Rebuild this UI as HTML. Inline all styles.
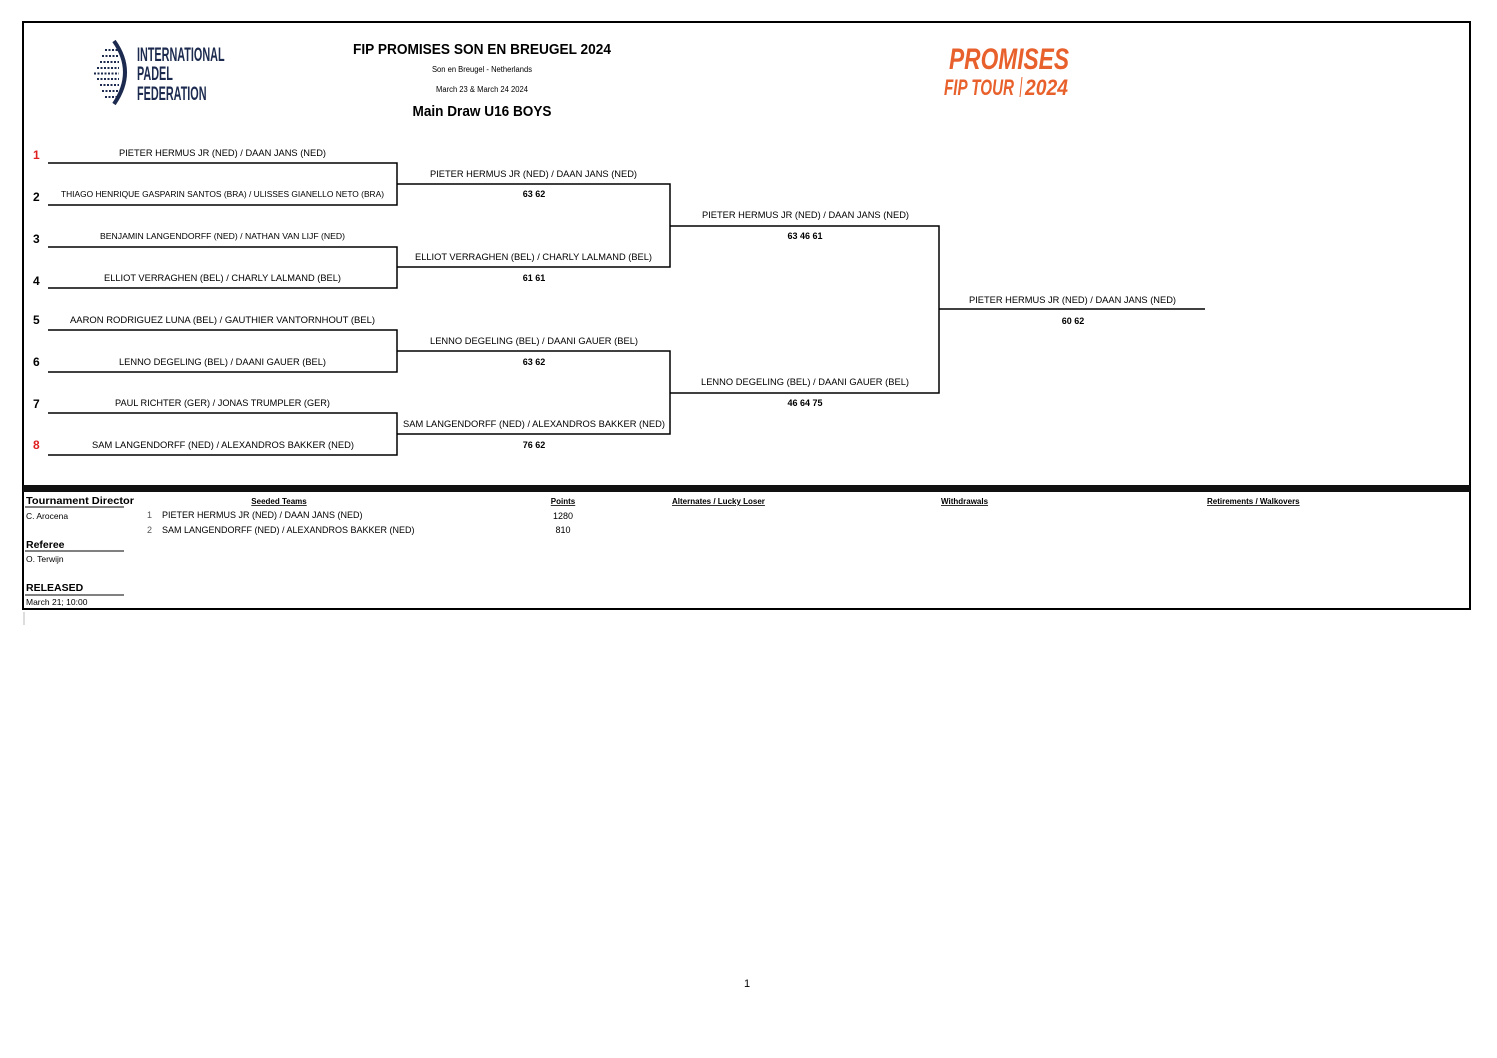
<!DOCTYPE html>
<html><head><meta charset="utf-8"><style>
html,body{margin:0;padding:0;background:#fff;}
svg{display:block;font-family:"Liberation Sans",sans-serif;}
</style></head><body>
<svg width="1497" height="1058" viewBox="0 0 1497 1058" xmlns="http://www.w3.org/2000/svg">
<rect x="23" y="22" width="1447" height="587" fill="none" stroke="#000" stroke-width="2"/>
<rect x="23" y="485" width="1447" height="7" fill="#111"/>
<line x1="24" y1="612" x2="24" y2="625" stroke="#bbb" stroke-width="1"/>
<!-- IPF logo -->
<path d="M114,41 Q136,72 114,104" fill="none" stroke="#1b2a4e" stroke-width="4"/>
<g stroke="#1b2a4e" stroke-width="2" stroke-dasharray="2,1.5" fill="none">
<line x1="105" y1="50" x2="118" y2="50"/><line x1="102" y1="56" x2="119" y2="56"/><line x1="100" y1="62" x2="119" y2="62"/>
<line x1="97" y1="68" x2="119" y2="68"/><line x1="94" y1="73.5" x2="119" y2="73.5"/><line x1="97" y1="79" x2="119" y2="79"/>
<line x1="100" y1="85" x2="119" y2="85"/><line x1="102" y1="91" x2="119" y2="91"/><line x1="105" y1="97" x2="118" y2="97"/>
</g>
<g fill="#1b2a4e" font-weight="bold" font-size="19" transform="translate(137,0) scale(0.57,1)">
<text x="0" y="61">INTERNATIONAL</text><text x="0" y="80">PADEL</text><text x="0" y="100">FEDERATION</text>
</g>
<!-- Title -->
<text x="482" y="54" font-size="14.5" font-weight="bold" text-anchor="middle" textLength="258" lengthAdjust="spacingAndGlyphs">FIP PROMISES SON EN BREUGEL 2024</text>
<text x="482" y="72" font-size="8" text-anchor="middle" textLength="100" lengthAdjust="spacingAndGlyphs">Son en Breugel - Netherlands</text>
<text x="482" y="92" font-size="8" text-anchor="middle" textLength="92" lengthAdjust="spacingAndGlyphs">March 23 &amp; March 24 2024</text>
<text x="482" y="116" font-size="14.5" font-weight="bold" text-anchor="middle" textLength="139" lengthAdjust="spacingAndGlyphs">Main Draw U16 BOYS</text>
<!-- Promises logo -->
<g fill="#e8612c" font-weight="bold" font-style="italic">
<text x="949" y="69" font-size="30" textLength="120" lengthAdjust="spacingAndGlyphs">PROMISES</text>
<text x="944" y="95" font-size="22" textLength="70" lengthAdjust="spacingAndGlyphs">FIP TOUR</text>
<text x="1025" y="95" font-size="22" textLength="43" lengthAdjust="spacingAndGlyphs">2024</text>
</g>
<line x1="1020" y1="97" x2="1022" y2="77" stroke="#e8612c" stroke-width="1"/>
<!-- Bracket lines -->
<g stroke="#000" stroke-width="1.5" fill="none">
<path d="M48,163H397V205H48"/><path d="M48,247H397V288H48"/><path d="M48,330H397V372H48"/><path d="M48,413H397V455H48"/>
<path d="M397,184H670V267H397"/><path d="M397,351H670V434H397"/>
<path d="M670,226H939V393H670"/>
<path d="M939,309H1205"/>
</g>
<!-- seeds -->
<g font-size="12" font-weight="bold">
<text x="33" y="159" fill="#e02020">1</text><text x="33" y="201">2</text><text x="33" y="243">3</text><text x="33" y="285">4</text>
<text x="33" y="324">5</text><text x="33" y="366">6</text><text x="33" y="408">7</text><text x="33" y="449" fill="#e02020">8</text>
</g>
<g font-size="9">
<text x="119" y="156" textLength="207" lengthAdjust="spacingAndGlyphs">PIETER HERMUS JR (NED) / DAAN JANS (NED)</text>
<text x="61" y="197" textLength="323" lengthAdjust="spacingAndGlyphs" font-size="8">THIAGO HENRIQUE GASPARIN SANTOS (BRA) / ULISSES GIANELLO NETO (BRA)</text>
<text x="100" y="239" textLength="245" lengthAdjust="spacingAndGlyphs" font-size="8.5">BENJAMIN LANGENDORFF (NED) / NATHAN VAN LIJF (NED)</text>
<text x="104" y="281" textLength="237" lengthAdjust="spacingAndGlyphs">ELLIOT VERRAGHEN (BEL) / CHARLY LALMAND (BEL)</text>
<text x="70" y="323" textLength="305" lengthAdjust="spacingAndGlyphs">AARON RODRIGUEZ LUNA (BEL) / GAUTHIER VANTORNHOUT (BEL)</text>
<text x="119" y="365" textLength="207" lengthAdjust="spacingAndGlyphs">LENNO DEGELING (BEL) / DAANI GAUER (BEL)</text>
<text x="115" y="406" textLength="215" lengthAdjust="spacingAndGlyphs">PAUL RICHTER (GER) / JONAS TRUMPLER (GER)</text>
<text x="92" y="448" textLength="262" lengthAdjust="spacingAndGlyphs">SAM LANGENDORFF (NED) / ALEXANDROS BAKKER (NED)</text>
<text x="430" y="177" textLength="207" lengthAdjust="spacingAndGlyphs">PIETER HERMUS JR (NED) / DAAN JANS (NED)</text>
<text x="415" y="260" textLength="237" lengthAdjust="spacingAndGlyphs">ELLIOT VERRAGHEN (BEL) / CHARLY LALMAND (BEL)</text>
<text x="430" y="344" textLength="208" lengthAdjust="spacingAndGlyphs">LENNO DEGELING (BEL) / DAANI GAUER (BEL)</text>
<text x="403" y="427" textLength="262" lengthAdjust="spacingAndGlyphs">SAM LANGENDORFF (NED) / ALEXANDROS BAKKER (NED)</text>
<text x="702" y="218" textLength="207" lengthAdjust="spacingAndGlyphs">PIETER HERMUS JR (NED) / DAAN JANS (NED)</text>
<text x="701" y="385" textLength="208" lengthAdjust="spacingAndGlyphs">LENNO DEGELING (BEL) / DAANI GAUER (BEL)</text>
<text x="969" y="303" textLength="207" lengthAdjust="spacingAndGlyphs">PIETER HERMUS JR (NED) / DAAN JANS (NED)</text>
</g>
<g font-size="9" font-weight="bold" text-anchor="middle">
<text x="534" y="197">63 62</text><text x="534" y="281">61 61</text><text x="534" y="365">63 62</text><text x="534" y="448">76 62</text>
<text x="805" y="239">63 46 61</text><text x="805" y="406">46 64 75</text><text x="1073" y="324">60 62</text>
</g>
<!-- bottom section -->
<g font-size="10.5" font-weight="bold">
<text x="26" y="504" textLength="108" lengthAdjust="spacingAndGlyphs">Tournament Director</text>
<text x="26" y="548">Referee</text>
<text x="26" y="591">RELEASED</text>
</g>
<g stroke="#000" stroke-width="1">
<line x1="25" y1="507" x2="124" y2="507"/><line x1="25" y1="551" x2="124" y2="551"/><line x1="25" y1="595" x2="124" y2="595"/>
</g>
<g font-size="8.5">
<text x="26" y="519">C. Arocena</text><text x="26" y="562">O. Terwijn</text><text x="26" y="605">March 21; 10:00</text>
</g>
<g font-size="8" font-weight="bold" text-decoration="underline">
<text x="279" y="504" text-anchor="middle">Seeded Teams</text>
<text x="563" y="504" text-anchor="middle">Points</text>
<text x="672" y="504">Alternates / Lucky Loser</text>
<text x="941" y="504">Withdrawals</text>
<text x="1207" y="504">Retirements / Walkovers</text>
</g>
<g font-size="9">
<text x="147" y="518" fill="#555">1</text><text x="162" y="518">PIETER HERMUS JR (NED) / DAAN JANS (NED)</text>
<text x="147" y="533" fill="#555">2</text><text x="162" y="533">SAM LANGENDORFF (NED) / ALEXANDROS BAKKER (NED)</text>
<text x="563" y="519" text-anchor="middle">1280</text><text x="563" y="533" text-anchor="middle">810</text>
</g>
<text x="747" y="987" font-size="11" text-anchor="middle">1</text>
</svg>
</body></html>
